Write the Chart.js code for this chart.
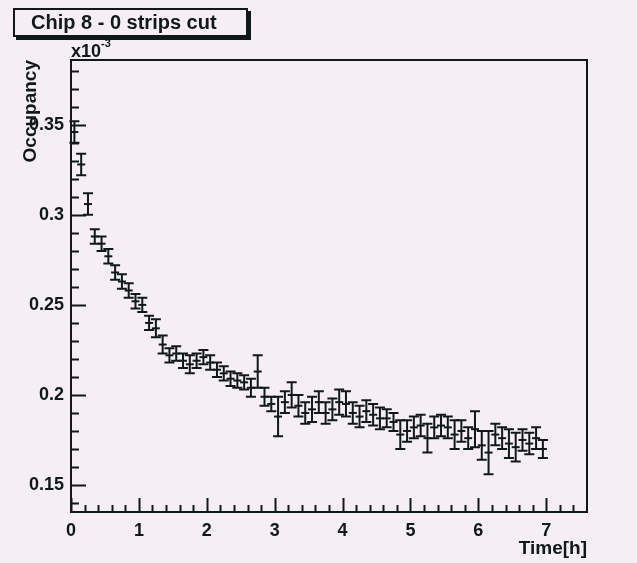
<!DOCTYPE html>
<html>
<head>
<meta charset="utf-8">
<script src="https://cdn.jsdelivr.net/npm/chart.js@4"></script>
<style>
  body { margin: 0; background: #f5eff5; }
  #wrap { position: relative; width: 637px; height: 563px; }
  #title {
    position: absolute; left: 13px; top: 8px; width: 215px; height: 25px;
    border: 2px solid #101818; box-shadow: 3px 3px 0 #101818;
    background: #f5eff5; font: bold 20px "Liberation Sans", Arial, sans-serif;
    color: #101818; line-height: 25px; padding-left: 16px; box-sizing: content-box;
  }
  #mult {
    position: absolute; left: 71px; top: 40px;
    font: bold 18px "Liberation Sans", Arial, sans-serif; color: #101818;
  }
  #mult sup { font-size: 11px; position: relative; top: -3px; }
</style>
</head>
<body>
<div id="wrap">
  <canvas id="occChart" width="637" height="563"></canvas>
  <div id="title">Chip 8 - 0 strips cut</div>
  <div id="mult">x10<sup>-3</sup></div>
</div>
<script>
// bin centers (hours)
const times = [
  0.05, 0.15, 0.25, 0.35, 0.45, 0.55, 0.65, 0.75, 0.85, 0.95,
  1.05, 1.15, 1.25, 1.35, 1.45, 1.55, 1.65, 1.75, 1.85, 1.95,
  2.05, 2.15, 2.25, 2.35, 2.45, 2.55, 2.65, 2.75, 2.85, 2.95,
  3.05, 3.15, 3.25, 3.35, 3.45, 3.55, 3.65, 3.75, 3.85, 3.95,
  4.05, 4.15, 4.25, 4.35, 4.45, 4.55, 4.65, 4.75, 4.85, 4.95,
  5.05, 5.15, 5.25, 5.35, 5.45, 5.55, 5.65, 5.75, 5.85, 5.95,
  6.05, 6.15, 6.25, 6.35, 6.45, 6.55, 6.65, 6.75, 6.85, 6.95
];
// occupancy (x10^-3)
const occupancy = [
  0.346, 0.328, 0.306, 0.288, 0.284, 0.277, 0.268, 0.263, 0.258, 0.252,
  0.250, 0.240, 0.237, 0.228, 0.222, 0.223, 0.219, 0.217, 0.219, 0.221,
  0.218, 0.214, 0.212, 0.209, 0.208, 0.207, 0.204, 0.213, 0.199, 0.195,
  0.188, 0.196, 0.200, 0.194, 0.190, 0.192, 0.196, 0.190, 0.192, 0.196,
  0.195, 0.190, 0.188, 0.191, 0.189, 0.187, 0.187, 0.185, 0.178, 0.180,
  0.182, 0.183, 0.176, 0.182, 0.183, 0.182, 0.178, 0.180, 0.176, 0.181,
  0.172, 0.168, 0.178, 0.176, 0.173, 0.171, 0.175, 0.173, 0.176, 0.170
];
// error bar half heights
const errors = [
  0.006, 0.006, 0.006, 0.004, 0.004, 0.004, 0.004, 0.004, 0.004, 0.004,
  0.004, 0.004, 0.005, 0.005, 0.004, 0.004, 0.004, 0.005, 0.004, 0.004,
  0.004, 0.004, 0.004, 0.004, 0.004, 0.004, 0.005, 0.009, 0.005, 0.004,
  0.011, 0.006, 0.007, 0.006, 0.006, 0.007, 0.006, 0.006, 0.006, 0.007,
  0.007, 0.006, 0.006, 0.006, 0.006, 0.006, 0.005, 0.005, 0.008, 0.006,
  0.006, 0.006, 0.008, 0.006, 0.006, 0.006, 0.008, 0.006, 0.006, 0.010,
  0.008, 0.012, 0.006, 0.006, 0.008, 0.008, 0.006, 0.006, 0.006, 0.005
];
const xTicks = [0, 1, 2, 3, 4, 5, 6, 7];
const yTicks = [0.15, 0.2, 0.25, 0.3, 0.35];

const ink = '#101818';
const tickFont = { family: '"Liberation Sans", Arial, sans-serif', size: 18, weight: 'bold' };
const titleFont = { family: '"Liberation Sans", Arial, sans-serif', size: 19, weight: 'bold' };

// draws frame, inward ticks and error bars
const rootStyle = {
  id: 'rootStyle',
  afterDatasetsDraw(chart) {
    const ctx = chart.ctx;
    const xs = chart.scales.x, ys = chart.scales.y;
    const a = chart.chartArea;
    ctx.save();
    ctx.strokeStyle = ink;
    ctx.lineWidth = 2;
    for (let i = 0; i < times.length; i++) {
      const x = xs.getPixelForValue(times[i]);
      const hi = ys.getPixelForValue(occupancy[i] + errors[i]);
      const lo = ys.getPixelForValue(occupancy[i] - errors[i]);
      ctx.beginPath();
      ctx.moveTo(x, hi); ctx.lineTo(x, lo);
      ctx.moveTo(x - 5, hi); ctx.lineTo(x + 5, hi);
      ctx.moveTo(x - 5, lo); ctx.lineTo(x + 5, lo);
      ctx.stroke();
    }
    // ticks
    ctx.beginPath();
    for (let v = 0; v <= 7.6; v += 0.2) {
      const x = Math.round(xs.getPixelForValue(v)) + 0.5;
      const major = Math.abs(v - Math.round(v)) < 1e-6;
      ctx.moveTo(x, a.bottom); ctx.lineTo(x, a.bottom - (major ? 14 : 7));
    }
    for (let k = 14; k <= 38; k++) {
      const y = Math.round(ys.getPixelForValue(k / 100)) + 0.5;
      const major = k % 5 === 0;
      ctx.moveTo(a.left, y); ctx.lineTo(a.left + (major ? 15 : 8), y);
    }
    ctx.stroke();
    ctx.strokeRect(a.left, a.top, a.right - a.left, a.bottom - a.top);
    ctx.restore();
  }
};

new Chart(document.getElementById('occChart'), {
  type: 'scatter',
  data: {
    datasets: [{
      data: times.map((t, i) => ({ x: t, y: occupancy[i] })),
      pointStyle: 'line',
      pointRadius: 4,
      borderColor: ink,
      borderWidth: 2,
      showLine: false
    }]
  },
  options: {
    responsive: false,
    animation: false,
    layout: { padding: { top: 60, right: 50, left: 0, bottom: 0 } },
    plugins: { legend: { display: false }, tooltip: { enabled: false } },
    scales: {
      x: {
        type: 'linear', min: 0, max: 7.6,
        afterFit: s => { s.height = 51; },
        afterBuildTicks: s => { s.ticks = xTicks.map(v => ({ value: v })); },
        grid: { display: false, drawTicks: false },
        border: { display: false },
        ticks: { color: ink, font: tickFont, padding: 8, maxRotation: 0 },
        title: { display: true, text: 'Time[h]', align: 'end', color: ink, font: titleFont, padding: { top: 0, bottom: 3 } }
      },
      y: {
        type: 'linear', min: 0.135, max: 0.386,
        afterFit: s => { s.width = 71; },
        afterBuildTicks: s => { s.ticks = yTicks.map(v => ({ value: v })); },
        grid: { display: false, drawTicks: false },
        border: { display: false },
        ticks: { color: ink, font: tickFont, padding: 7, callback: v => String(+v.toFixed(2)) },
        title: { display: true, text: 'Occupancy', align: 'end', color: ink, font: titleFont, padding: { top: 19, bottom: 0 } }
      }
    }
  },
  plugins: [rootStyle]
});
</script>
</body>
</html>
